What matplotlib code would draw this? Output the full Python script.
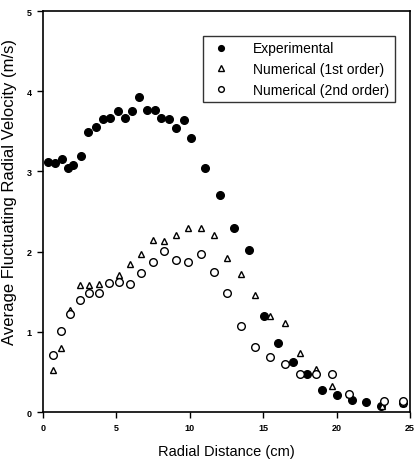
import numpy as np
import matplotlib
matplotlib.use('Agg')
import matplotlib.pyplot as plt

plt.rcParams['font.family'] = ['Liberation Sans', 'DejaVu Sans']

# Experimental data
exp_x = [0.36, 0.82, 1.27, 1.68, 2.07, 2.59, 3.09, 3.59, 4.07, 4.57, 5.09, 5.57,
         6.07, 6.57, 7.07, 7.6, 8.07, 8.57, 9.07, 9.57, 10.07, 11.05, 12.07,
         13.0, 14.05, 15.03, 16.0, 17.0, 17.99, 19.03, 20.0, 21.03, 22.0, 23.0, 24.5]
exp_y = [3.12, 3.10, 3.15, 3.04, 3.08, 3.19, 3.49, 3.56, 3.66, 3.67, 3.75, 3.67,
         3.75, 3.93, 3.76, 3.76, 3.67, 3.66, 3.54, 3.64, 3.42, 3.04, 2.70,
         2.30, 2.02, 1.20, 0.86, 0.62, 0.48, 0.27, 0.21, 0.15, 0.13, 0.08, 0.11]

# Numerical (1st order)
n1_x = [0.66, 1.25, 1.87, 2.5, 3.14, 3.82, 4.5, 5.2, 5.93, 6.68, 7.46, 8.23,
        9.05, 9.89, 10.76, 11.62, 12.53, 13.46, 14.44, 15.44, 16.46, 17.49,
        18.58, 19.71, 20.83, 23.1, 24.5]
n1_y = [0.53, 0.80, 1.27, 1.58, 1.58, 1.60, 1.62, 1.71, 1.85, 1.97, 2.14, 2.13,
        2.21, 2.29, 2.29, 2.21, 1.92, 1.72, 1.46, 1.20, 1.11, 0.74,
        0.54, 0.33, 0.22, 0.08, 0.11]

# Numerical (2nd order)
n2_x = [0.66, 1.25, 1.87, 2.5, 3.14, 3.82, 4.5, 5.2, 5.93, 6.68, 7.46, 8.23,
        9.05, 9.89, 10.76, 11.62, 12.53, 13.46, 14.44, 15.44, 16.46, 17.49,
        18.58, 19.71, 20.83, 23.2, 24.5]
n2_y = [0.71, 1.01, 1.22, 1.40, 1.48, 1.48, 1.61, 1.62, 1.60, 1.73, 1.87, 2.01,
        1.90, 1.87, 1.97, 1.74, 1.48, 1.07, 0.81, 0.69, 0.60, 0.47,
        0.47, 0.47, 0.22, 0.14, 0.14]

fig = plt.figure(figsize=(4.16, 4.64), dpi=100)
ax = fig.add_axes([0.1034, 0.1099, 0.8822, 0.8641])

ax.plot(exp_x, exp_y, 'o', color='black', markersize=5.5, label='Experimental')
ax.plot(n1_x, n1_y, '^', markerfacecolor='white', markeredgecolor='black',
        markeredgewidth=1.0, markersize=5, label='Numerical (1st order)')
ax.plot(n2_x, n2_y, 'o', markerfacecolor='white', markeredgecolor='black',
        markeredgewidth=1.0, markersize=5.5, label='Numerical (2nd order)')

ax.set_xlim(0, 25)
ax.set_ylim(0, 5)
ax.set_xticks([0, 5, 10, 15, 20, 25])
ax.set_yticks([0, 1, 2, 3, 4, 5])
ax.tick_params(direction='out', length=4, width=1, labelsize=6.5, pad=4)
for lbl in ax.get_xticklabels() + ax.get_yticklabels():
    lbl.set_fontweight('bold')
for s in ax.spines.values():
    s.set_linewidth(1.2)

ax.set_xlabel('Radial Distance (cm)', fontsize=10.5)
ax.xaxis.set_label_coords(0.5, -0.08)
ax.set_ylabel('Average Fluctuating Radial Velocity (m/s)', fontsize=12)
ax.yaxis.set_label_coords(-0.071, 0.552)

leg = ax.legend(loc='upper right', bbox_to_anchor=(0.959, 0.938), fontsize=10,
                frameon=True, fancybox=False, edgecolor='black', markerscale=0.75,
                handletextpad=1.4, borderpad=0.4, labelspacing=0.47,
                handlelength=1.8, borderaxespad=0)
leg.get_frame().set_linewidth(1.0)

fig.savefig('out.png', dpi=100)
